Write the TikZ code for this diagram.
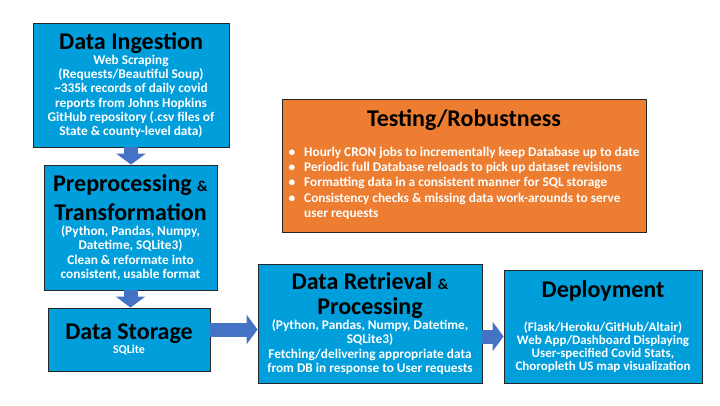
\documentclass[tikz,border=0pt]{standalone}
\usepackage{fontspec}
\setmainfont{Carlito}
\usetikzlibrary{arrows.meta}
\definecolor{boxblue}{RGB}{0,158,219}
\definecolor{boxorange}{RGB}{237,125,49}
\definecolor{arrowblue}{RGB}{68,114,196}
\newcommand{\ttl}[1]{{\color{black}\fontsize{24}{27}\selectfont #1}}
\newcommand{\smallamp}{{\fontsize{15}{16}\selectfont\&}}
\begin{document}
\begin{tikzpicture}
  [x=1pt,y=-1pt,
   stage/.style={draw=black!85,line width=0.8pt,fill=boxblue,text=white,
     font=\bfseries\fontsize{13.3}{14.2}\selectfont,align=center,inner sep=0pt},
   flow/.style={arrowblue,line width=14pt,-{Triangle[width=29pt,length=11pt]}}]
\useasboundingbox (0,0) rectangle (720,405);

\node (ingest)[stage,minimum width=196pt,minimum height=124pt] at (131,85)
  {\ttl{Data Ingestion}\\[1pt]
   Web Scraping\\
   (Requests/Beautiful Soup)\\
   \textasciitilde335k records of daily covid\\
   reports from Johns Hopkins\\
   GitHub repository (.csv files of\\
   State \& county-level data)};
\node (prep)[stage,minimum width=173pt,minimum height=125pt] at (130.5,227.5)
  {\ttl{Preprocessing \smallamp}\\[7pt]
   \ttl{Transformation}\\[1pt]
   (Python, Pandas, Numpy,\\
   Datetime, SQLite3)\\
   Clean \& reformate into\\
   consistent, usable format};
\node (store)[stage,minimum width=162pt,minimum height=63pt] at (129,339.5)
  {\ttl{Data Storage}\\
   {\fontsize{12}{14}\selectfont SQLite}};
\node (retr)[stage,minimum width=224pt,minimum height=119pt] at (370,323.5)
  {\ttl{Data Retrieval \smallamp}\\[7pt]
   \ttl{Processing}\\[1pt]
   (Python, Pandas, Numpy, Datetime,\\
   SQLite3)\\
   Fetching/delivering appropriate data\\
   from DB in response to User requests};
\node (deploy)[stage,font=\bfseries\fontsize{13}{13}\selectfont,minimum width=198pt,minimum height=113pt] at (603,326.5)
  {\ttl{Deployment}\\[20pt]
   (Flask/Heroku/GitHub/Altair)\\
   Web App/Dashboard Displaying\\
   User-specified Covid Stats,\\
   Choropleth US map visualization};
\node (test)[stage,fill=boxorange,minimum width=364pt,minimum height=133pt] at (464,165.5)
  {\ttl{Testing/Robustness}\\[15pt]
   \begin{tabular}{@{}l@{\hspace{9pt}}l@{}}
   \textbullet & Hourly CRON jobs to incrementally keep Database up to date\\[1pt]
   \textbullet & Periodic full Database reloads to pick up dataset revisions\\[1pt]
   \textbullet & Formatting data in a consistent manner for SQL storage\\[1pt]
   \textbullet & Consistency checks \& missing data work-arounds to serve\\[1pt]
               & user requests
   \end{tabular}};

% block arrows between the stages
\draw[flow] (ingest.south) -- (ingest.south |- prep.north);
\draw[flow] (prep.south) -- (prep.south |- store.north);
\draw[flow] ([yshift=10pt]store.east) -- ([yshift=10pt]store.east -| retr.west);
\draw[flow] ([yshift=-13pt]retr.east) -- ([yshift=-13pt]retr.east -| deploy.west);

\end{tikzpicture}
\end{document}
